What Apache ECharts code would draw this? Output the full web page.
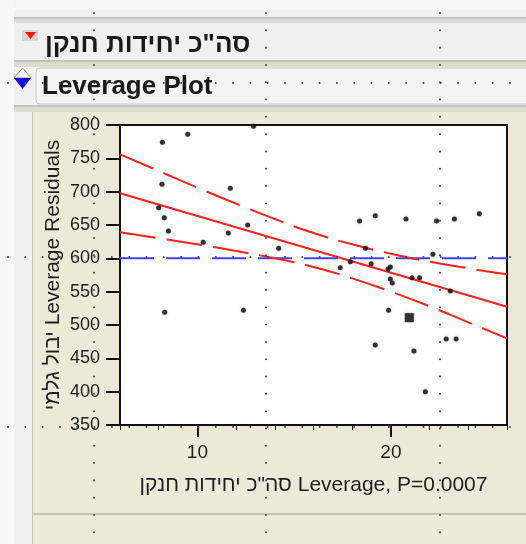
<!DOCTYPE html>
<html>
<head>
<meta charset="utf-8">
<script src="https://cdn.jsdelivr.net/npm/echarts@6/dist/echarts.min.js"></script>
<style>
html, body { margin: 0; padding: 0; background: #f0f0f0; }
#chart { width: 526px; height: 544px; }
</style>
</head>
<body>
<div id="chart"></div>
<script>
// leverage residuals: [x leverage, y leverage residual]
var residuals = [
  [8.19, 774], [9.5, 786], [12.9, 798], [8.17, 711], [11.7, 705], [8.0, 676],
  [8.29, 661], [8.5, 641], [12.6, 650], [11.6, 638], [10.3, 624], [14.2, 615],
  [8.31, 519], [12.38, 522], [18.38, 656], [19.19, 664], [20.78, 659], [22.36, 656],
  [23.28, 659], [24.57, 667], [18.69, 615], [22.17, 606], [17.38, 586], [17.9, 595],
  [18.98, 592], [19.85, 584], [19.97, 587], [19.97, 569], [20.07, 563], [21.09, 571],
  [21.48, 571], [23.07, 551], [19.88, 522], [19.19, 470], [21.19, 461], [22.86, 479],
  [23.37, 479], [21.78, 400]
]
var bigPoint = [[20.95, 511]]

// fitted line and confidence curves
var fitX = [6, 26]
var fitY = [697.5, 527.5]
var bandX = [6, 8, 10, 12, 14, 16, 18, 20, 22, 24, 26]
var upperBand = [756, 731, 706, 682, 659, 638, 621, 607, 595, 585, 576]
var lowerBand = [639, 630, 621, 611, 600, 587, 570, 550, 528, 504, 480]
var meanX = [6, 26]
var meanY = [600, 600]

var xTickLabels = [10, 20]
var titleText = 'סה"כ יחידות חנקן'
var headerText = 'Leverage Plot'
var xName = 'סה"כ יחידות חנקן Leverage, P=0.0007'
var yName = 'יבול גלמי Leverage Residuals'

function pairs(xs, ys) {
  return xs.map(function (x, i) { return [x, ys[i]] })
}

var FONT = '"Liberation Sans", Arial, sans-serif'

// JMP layout guide dots
function dots(x1, y1, x2, y2) {
  return {
    type: 'line', z: 100, silent: true,
    shape: { x1: x1, y1: y1, x2: x2, y2: y2 },
    style: { stroke: '#444', lineWidth: 2, lineCap: 'round', lineDash: [0.01, 17.3] }
  }
}
function box(x, y, w, h, fill, z) {
  return { type: 'rect', z: z || -10, silent: true, shape: { x: x, y: y, width: w, height: h }, style: { fill: fill } }
}

var chrome = [
  box(0, 0, 526, 544, '#f0f0f0', -20),
  box(0, 0, 14, 544, '#f7f7f7'),
  box(14, 0, 512, 10, '#f5f5f5'),
  box(14, 17, 512, 2, '#c4c4c4'),
  box(14, 19, 512, 4, '#dedbd0'),
  box(14, 60, 512, 2, '#c4c4c4'),
  box(14, 62, 512, 5, '#dedbd0'),
  {
    type: 'rect', z: -9, silent: true,
    shape: { x: 36, y: 68, width: 500, height: 36, r: 4 },
    style: { fill: '#f3f3f3', stroke: '#c8c8c8', lineWidth: 1 }
  },
  box(14, 105, 512, 2, '#c4c4c4'),
  box(14, 107, 512, 5, '#dedbd0'),
  box(32, 112, 494, 432, '#ece9d8'),
  box(32, 112, 1, 432, '#c8c4b4'),
  box(32, 513, 494, 2, '#c8c4b4'),
  box(22, 30, 16, 11, '#d6d6d6', -9),
  {
    type: 'polygon', z: -8, silent: true,
    shape: { points: [[25, 32], [36, 32], [30.5, 39]] },
    style: { fill: '#ff1010' }
  },
  {
    type: 'polygon', z: -8, silent: true,
    shape: { points: [[14, 78], [22.5, 68], [31, 78]] },
    style: { fill: '#f6f6f6', stroke: '#9a9a9a', lineWidth: 1 }
  },
  {
    type: 'polygon', z: -8, silent: true,
    shape: { points: [[14, 78], [31, 78], [22.5, 89]] },
    style: { fill: '#1010e0' }
  },
  dots(94, 13, 94, 544),
  dots(266, 13, 266, 544),
  dots(440, 13, 440, 544),
  dots(8, 83, 526, 83),
  dots(8, 257, 526, 257),
  dots(8, 427, 526, 427),
  {
    type: 'text', z: 120, left: 45, top: 32, silent: true,
    style: { text: titleText, font: 'bold 26px ' + FONT, fill: '#1a1a1a' }
  },
  {
    type: 'text', z: 120, left: 42, top: 74, silent: true,
    style: { text: headerText, font: 'bold 26px ' + FONT, fill: '#1a1a1a' }
  }
]

var chart = echarts.init(document.getElementById('chart'))
chart.setOption({
  animation: false,
  backgroundColor: '#f0f0f0',
  graphic: { elements: chrome },
  grid: {
    left: 120, right: 19, top: 125, bottom: 119,
    show: true, backgroundColor: '#ffffff', borderColor: '#111', borderWidth: 2
  },
  xAxis: [{
    type: 'value', min: 6, max: 26, interval: 2,
    axisLine: { show: true, lineStyle: { color: '#111', width: 2 } },
    axisTick: { show: true, length: 5, lineStyle: { color: '#111', width: 1 } },
    axisLabel: {
      margin: 18, color: '#1e1e1e', fontSize: 19, fontFamily: FONT,
      formatter: function (v) { return xTickLabels.indexOf(v) >= 0 ? String(v) : '' }
    },
    splitLine: { show: false },
    name: xName, nameLocation: 'middle', nameGap: 50,
    nameTextStyle: { color: '#1e1e1e', fontSize: 21, fontFamily: FONT }
  }, {
    type: 'value', min: 6, max: 26, position: 'bottom',
    axisLine: { show: false },
    axisLabel: { show: false },
    axisTick: { show: true, customValues: xTickLabels, length: 12, lineStyle: { color: '#111', width: 2 } },
    splitLine: { show: false }
  }],
  yAxis: {
    type: 'value', min: 350, max: 800, interval: 50,
    axisLine: { show: true, lineStyle: { color: '#111', width: 2 } },
    axisTick: { show: true, length: 14, lineStyle: { color: '#111', width: 2 } },
    axisLabel: { margin: 20, color: '#1e1e1e', fontSize: 18, fontFamily: FONT },
    splitLine: { show: false },
    name: yName, nameLocation: 'middle', nameRotate: 90, nameGap: 56,
    nameMoveOverlap: false,
    nameTextStyle: { color: '#1e1e1e', fontSize: 21, fontFamily: FONT }
  },
  series: [
    {
      type: 'line', data: pairs(meanX, meanY), symbol: 'none', z: 2,
      lineStyle: { color: '#4040ff', width: 2, type: [34, 12] }
    },
    {
      type: 'line', data: pairs(bandX, upperBand), symbol: 'none', smooth: true, z: 3,
      lineStyle: { color: '#ff2020', width: 2, type: [36, 11] }
    },
    {
      type: 'line', data: pairs(bandX, lowerBand), symbol: 'none', smooth: true, z: 3,
      lineStyle: { color: '#ff2020', width: 2, type: [36, 11] }
    },
    {
      type: 'line', data: pairs(fitX, fitY), symbol: 'none', z: 3,
      lineStyle: { color: '#ff2020', width: 2 }
    },
    {
      type: 'scatter', data: residuals, symbolSize: 5, z: 5,
      itemStyle: { color: '#111', shadowBlur: 2, shadowColor: 'rgba(0,0,0,0.45)' }
    },
    {
      type: 'scatter', data: bigPoint, symbol: 'rect', symbolSize: 9, z: 5,
      itemStyle: { color: '#111', shadowBlur: 2, shadowColor: 'rgba(0,0,0,0.45)' }
    }
  ]
})
</script>
</body>
</html>
